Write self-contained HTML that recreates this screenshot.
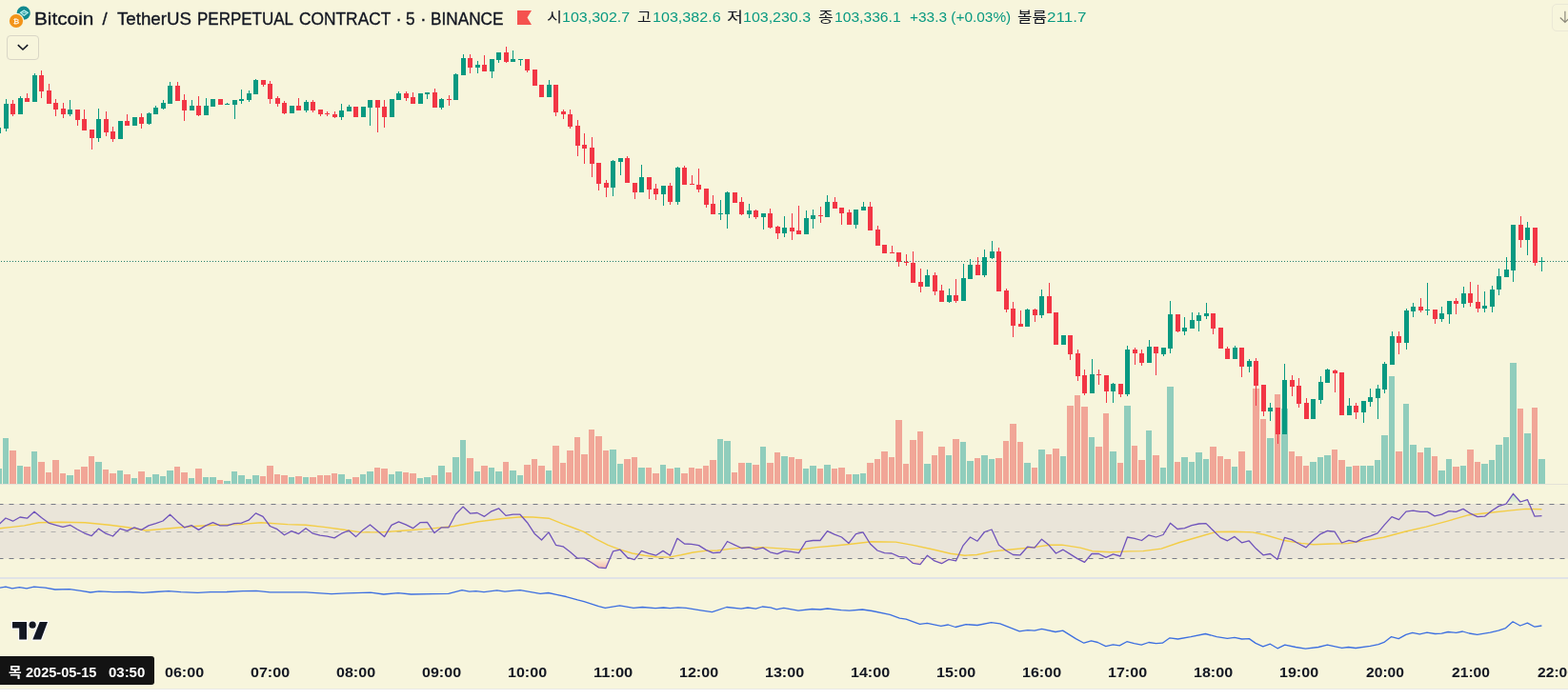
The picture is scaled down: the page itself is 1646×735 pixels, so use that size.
<!DOCTYPE html>
<html><head><meta charset="utf-8"><title>BTCUSDT.P chart</title>
<style>
html,body{margin:0;padding:0;background:#fff;}
body{width:1646px;height:735px;overflow:hidden;position:relative;font-family:"Liberation Sans","Noto Sans CJK KR",sans-serif;color:#131722;}
#chart{position:absolute;left:0;top:0;width:1646px;height:723px;background:#f7f5dc;overflow:hidden;}
#chart svg.main{position:absolute;left:0;top:0;}
.icons,.flag,.logo{position:absolute;}
#bottomline{position:absolute;left:0;top:723px;width:1646px;height:1px;background:#e9e9e4;}
.title{position:absolute;left:37px;top:7px;font-size:18px;line-height:22px;white-space:nowrap;letter-spacing:0px;}
.ohlc{position:absolute;top:9px;font-size:15px;line-height:18px;white-space:nowrap;}
.ohlc .v{color:#089981;}
.flag{position:absolute;left:543px;top:11px;width:15px;height:15px;}
.icons{position:absolute;left:9px;top:6px;width:26px;height:24px;}
.btn{position:absolute;left:6.5px;top:37px;width:32px;height:24px;border:1px solid #d9d6c6;border-radius:4px;}
.btn2{position:absolute;left:1628.5px;top:4px;width:30px;height:27px;border:1px solid #ebe8d6;border-radius:5px;}
.tl{position:absolute;top:697px;font-size:14.5px;line-height:18px;font-weight:bold;white-space:nowrap;transform:translateX(-50%);}
.datebox{position:absolute;left:0;top:689px;width:162px;height:30px;background:#131313;border-radius:0 3px 3px 0;}
.datebox span{position:absolute;left:9px;top:6px;color:#fff;font-size:14.5px;line-height:18px;font-weight:bold;white-space:nowrap;}
.logo{position:absolute;left:11px;top:651px;}
.t{position:absolute;white-space:nowrap;transform-origin:0 0;}
</style></head><body>
<div id="chart">
<svg class="main" width="1646" height="723" viewBox="0 0 1646 723">
<g shape-rendering="crispEdges" fill="#90cdbc"><rect x="-5" y="492" width="7" height="16"/><rect x="3" y="460" width="6" height="48"/><rect x="18" y="489" width="6" height="19"/><rect x="33" y="474" width="6" height="34"/><rect x="70" y="499" width="7" height="9"/><rect x="100" y="485" width="7" height="23"/><rect x="123" y="494" width="6" height="14"/><rect x="138" y="502" width="6" height="6"/><rect x="153" y="501" width="6" height="7"/><rect x="160" y="498" width="7" height="10"/><rect x="168" y="500" width="6" height="8"/><rect x="175" y="494" width="7" height="14"/><rect x="198" y="502" width="6" height="6"/><rect x="213" y="501" width="6" height="7"/><rect x="220" y="501" width="7" height="7"/><rect x="235" y="505" width="7" height="3"/><rect x="243" y="495" width="6" height="13"/><rect x="250" y="499" width="7" height="9"/><rect x="258" y="503" width="6" height="5"/><rect x="265" y="499" width="7" height="9"/><rect x="303" y="501" width="6" height="7"/><rect x="318" y="501" width="6" height="7"/><rect x="355" y="498" width="7" height="10"/><rect x="363" y="503" width="6" height="5"/><rect x="378" y="498" width="6" height="10"/><rect x="385" y="495" width="7" height="13"/><rect x="408" y="498" width="6" height="10"/><rect x="415" y="495" width="7" height="13"/><rect x="438" y="502" width="6" height="6"/><rect x="445" y="501" width="7" height="7"/><rect x="460" y="489" width="7" height="19"/><rect x="475" y="480" width="7" height="28"/><rect x="483" y="462" width="6" height="46"/><rect x="498" y="495" width="6" height="13"/><rect x="513" y="491" width="6" height="17"/><rect x="520" y="495" width="7" height="13"/><rect x="535" y="494" width="7" height="14"/><rect x="543" y="499" width="6" height="9"/><rect x="573" y="494" width="6" height="14"/><rect x="640" y="472" width="7" height="36"/><rect x="648" y="487" width="6" height="21"/><rect x="670" y="491" width="7" height="17"/><rect x="693" y="488" width="6" height="20"/><rect x="708" y="491" width="6" height="17"/><rect x="753" y="461" width="6" height="47"/><rect x="760" y="463" width="7" height="45"/><rect x="783" y="486" width="6" height="22"/><rect x="798" y="469" width="6" height="39"/><rect x="820" y="479" width="7" height="29"/><rect x="843" y="492" width="6" height="16"/><rect x="850" y="489" width="7" height="19"/><rect x="865" y="488" width="7" height="20"/><rect x="895" y="498" width="7" height="10"/><rect x="903" y="497" width="6" height="11"/><rect x="970" y="487" width="7" height="21"/><rect x="993" y="478" width="6" height="30"/><rect x="1008" y="464" width="6" height="44"/><rect x="1015" y="484" width="7" height="24"/><rect x="1030" y="478" width="7" height="30"/><rect x="1038" y="482" width="6" height="26"/><rect x="1075" y="486" width="7" height="22"/><rect x="1090" y="472" width="7" height="36"/><rect x="1113" y="479" width="6" height="29"/><rect x="1143" y="459" width="6" height="49"/><rect x="1165" y="474" width="7" height="34"/><rect x="1180" y="426" width="7" height="82"/><rect x="1203" y="452" width="6" height="56"/><rect x="1218" y="491" width="6" height="17"/><rect x="1225" y="406" width="7" height="102"/><rect x="1240" y="480" width="7" height="28"/><rect x="1248" y="485" width="6" height="23"/><rect x="1255" y="475" width="7" height="33"/><rect x="1263" y="482" width="6" height="26"/><rect x="1293" y="490" width="6" height="18"/><rect x="1308" y="494" width="6" height="14"/><rect x="1330" y="460" width="7" height="48"/><rect x="1345" y="429" width="7" height="79"/><rect x="1375" y="485" width="7" height="23"/><rect x="1383" y="480" width="6" height="28"/><rect x="1390" y="478" width="7" height="30"/><rect x="1413" y="490" width="6" height="18"/><rect x="1428" y="489" width="6" height="19"/><rect x="1435" y="489" width="7" height="19"/><rect x="1443" y="483" width="6" height="25"/><rect x="1450" y="457" width="7" height="51"/><rect x="1458" y="395" width="6" height="113"/><rect x="1473" y="424" width="6" height="84"/><rect x="1480" y="467" width="7" height="41"/><rect x="1495" y="470" width="7" height="38"/><rect x="1510" y="494" width="7" height="14"/><rect x="1518" y="482" width="6" height="26"/><rect x="1533" y="489" width="6" height="19"/><rect x="1555" y="487" width="7" height="21"/><rect x="1563" y="483" width="6" height="25"/><rect x="1570" y="467" width="7" height="41"/><rect x="1578" y="459" width="6" height="49"/><rect x="1585" y="381" width="7" height="127"/><rect x="1600" y="455" width="7" height="53"/><rect x="1615" y="482" width="7" height="26"/></g>
<g shape-rendering="crispEdges" fill="#f1a697"><rect x="10" y="473" width="7" height="35"/><rect x="25" y="490" width="7" height="18"/><rect x="40" y="485" width="7" height="23"/><rect x="48" y="496" width="6" height="12"/><rect x="55" y="483" width="7" height="25"/><rect x="63" y="497" width="6" height="11"/><rect x="78" y="493" width="6" height="15"/><rect x="85" y="490" width="7" height="18"/><rect x="93" y="479" width="6" height="29"/><rect x="108" y="493" width="6" height="15"/><rect x="115" y="497" width="7" height="11"/><rect x="130" y="498" width="7" height="10"/><rect x="145" y="495" width="7" height="13"/><rect x="183" y="490" width="6" height="18"/><rect x="190" y="496" width="7" height="12"/><rect x="205" y="492" width="7" height="16"/><rect x="228" y="504" width="6" height="4"/><rect x="273" y="500" width="6" height="8"/><rect x="280" y="489" width="7" height="19"/><rect x="288" y="498" width="6" height="10"/><rect x="295" y="499" width="7" height="9"/><rect x="310" y="500" width="7" height="8"/><rect x="325" y="501" width="7" height="7"/><rect x="333" y="499" width="6" height="9"/><rect x="340" y="499" width="7" height="9"/><rect x="348" y="497" width="6" height="11"/><rect x="370" y="501" width="7" height="7"/><rect x="393" y="491" width="6" height="17"/><rect x="400" y="492" width="7" height="16"/><rect x="423" y="496" width="6" height="12"/><rect x="430" y="497" width="7" height="11"/><rect x="453" y="499" width="6" height="9"/><rect x="468" y="496" width="6" height="12"/><rect x="490" y="481" width="7" height="27"/><rect x="505" y="489" width="7" height="19"/><rect x="528" y="485" width="6" height="23"/><rect x="550" y="488" width="7" height="20"/><rect x="558" y="482" width="6" height="26"/><rect x="565" y="489" width="7" height="19"/><rect x="580" y="468" width="7" height="40"/><rect x="588" y="486" width="6" height="22"/><rect x="595" y="473" width="7" height="35"/><rect x="603" y="459" width="6" height="49"/><rect x="610" y="477" width="7" height="31"/><rect x="618" y="451" width="6" height="57"/><rect x="625" y="458" width="7" height="50"/><rect x="633" y="473" width="6" height="35"/><rect x="655" y="482" width="7" height="26"/><rect x="663" y="480" width="6" height="28"/><rect x="678" y="491" width="6" height="17"/><rect x="685" y="497" width="7" height="11"/><rect x="700" y="492" width="7" height="16"/><rect x="715" y="497" width="7" height="11"/><rect x="723" y="491" width="6" height="17"/><rect x="730" y="492" width="7" height="16"/><rect x="738" y="489" width="6" height="19"/><rect x="745" y="483" width="7" height="25"/><rect x="768" y="496" width="6" height="12"/><rect x="775" y="486" width="7" height="22"/><rect x="790" y="488" width="7" height="20"/><rect x="805" y="486" width="7" height="22"/><rect x="813" y="475" width="6" height="33"/><rect x="828" y="480" width="6" height="28"/><rect x="835" y="482" width="7" height="26"/><rect x="858" y="492" width="6" height="16"/><rect x="873" y="492" width="6" height="16"/><rect x="880" y="491" width="7" height="17"/><rect x="888" y="498" width="6" height="10"/><rect x="910" y="486" width="7" height="22"/><rect x="918" y="482" width="6" height="26"/><rect x="925" y="474" width="7" height="34"/><rect x="933" y="480" width="6" height="28"/><rect x="940" y="441" width="7" height="67"/><rect x="948" y="487" width="6" height="21"/><rect x="955" y="462" width="7" height="46"/><rect x="963" y="453" width="6" height="55"/><rect x="978" y="478" width="6" height="30"/><rect x="985" y="469" width="7" height="39"/><rect x="1000" y="461" width="7" height="47"/><rect x="1023" y="481" width="6" height="27"/><rect x="1045" y="481" width="7" height="27"/><rect x="1053" y="463" width="6" height="45"/><rect x="1060" y="445" width="7" height="63"/><rect x="1068" y="464" width="6" height="44"/><rect x="1083" y="491" width="6" height="17"/><rect x="1098" y="477" width="6" height="31"/><rect x="1105" y="471" width="7" height="37"/><rect x="1120" y="426" width="7" height="82"/><rect x="1128" y="415" width="6" height="93"/><rect x="1135" y="427" width="7" height="81"/><rect x="1150" y="469" width="7" height="39"/><rect x="1158" y="434" width="6" height="74"/><rect x="1173" y="486" width="6" height="22"/><rect x="1188" y="468" width="6" height="40"/><rect x="1195" y="483" width="7" height="25"/><rect x="1210" y="478" width="7" height="30"/><rect x="1233" y="485" width="6" height="23"/><rect x="1270" y="469" width="7" height="39"/><rect x="1278" y="479" width="6" height="29"/><rect x="1285" y="482" width="7" height="26"/><rect x="1300" y="474" width="7" height="34"/><rect x="1315" y="408" width="7" height="100"/><rect x="1323" y="440" width="6" height="68"/><rect x="1338" y="414" width="6" height="94"/><rect x="1353" y="474" width="6" height="34"/><rect x="1360" y="479" width="7" height="29"/><rect x="1368" y="489" width="6" height="19"/><rect x="1398" y="472" width="6" height="36"/><rect x="1405" y="483" width="7" height="25"/><rect x="1420" y="489" width="7" height="19"/><rect x="1465" y="474" width="7" height="34"/><rect x="1488" y="475" width="6" height="33"/><rect x="1503" y="479" width="6" height="29"/><rect x="1525" y="490" width="7" height="18"/><rect x="1540" y="472" width="7" height="36"/><rect x="1548" y="485" width="6" height="23"/><rect x="1593" y="429" width="6" height="79"/><rect x="1608" y="428" width="6" height="80"/></g>
<line x1="1" y1="274.5" x2="1646" y2="274.5" stroke="#267e6b" stroke-width="1" stroke-dasharray="1 2" shape-rendering="crispEdges"/>
<g shape-rendering="crispEdges" fill="#089981"><rect x="-2" y="130" width="1" height="12"/><rect x="-4" y="134" width="5" height="6"/><rect x="6" y="104" width="1" height="34"/><rect x="4" y="109" width="5" height="26"/><rect x="21" y="101" width="1" height="19"/><rect x="19" y="103" width="5" height="17"/><rect x="36" y="77" width="1" height="30"/><rect x="34" y="79" width="5" height="28"/><rect x="73" y="105" width="1" height="17"/><rect x="71" y="115" width="5" height="5"/><rect x="103" y="114" width="1" height="35"/><rect x="101" y="125" width="5" height="20"/><rect x="126" y="127" width="1" height="19"/><rect x="124" y="127" width="5" height="19"/><rect x="141" y="123" width="1" height="9"/><rect x="139" y="123" width="5" height="9"/><rect x="156" y="118" width="1" height="13"/><rect x="154" y="119" width="5" height="11"/><rect x="163" y="111" width="1" height="9"/><rect x="161" y="113" width="5" height="7"/><rect x="171" y="105" width="1" height="10"/><rect x="169" y="108" width="5" height="6"/><rect x="178" y="86" width="1" height="23"/><rect x="176" y="90" width="5" height="19"/><rect x="201" y="105" width="1" height="11"/><rect x="199" y="111" width="5" height="5"/><rect x="216" y="103" width="1" height="18"/><rect x="214" y="111" width="5" height="10"/><rect x="223" y="104" width="1" height="8"/><rect x="221" y="104" width="5" height="8"/><rect x="238" y="108" width="1" height="2"/><rect x="236" y="109" width="5" height="1"/><rect x="246" y="105" width="1" height="20"/><rect x="244" y="105" width="5" height="5"/><rect x="253" y="94" width="1" height="15"/><rect x="251" y="104" width="5" height="2"/><rect x="261" y="95" width="1" height="12"/><rect x="259" y="98" width="5" height="7"/><rect x="268" y="83" width="1" height="16"/><rect x="266" y="84" width="5" height="15"/><rect x="306" y="111" width="1" height="8"/><rect x="304" y="111" width="5" height="8"/><rect x="321" y="105" width="1" height="13"/><rect x="319" y="107" width="5" height="9"/><rect x="358" y="109" width="1" height="17"/><rect x="356" y="116" width="5" height="7"/><rect x="366" y="110" width="1" height="7"/><rect x="364" y="112" width="5" height="5"/><rect x="381" y="112" width="1" height="11"/><rect x="379" y="112" width="5" height="11"/><rect x="388" y="105" width="1" height="27"/><rect x="386" y="105" width="5" height="8"/><rect x="411" y="104" width="1" height="19"/><rect x="409" y="104" width="5" height="19"/><rect x="418" y="96" width="1" height="9"/><rect x="416" y="98" width="5" height="7"/><rect x="441" y="98" width="1" height="11"/><rect x="439" y="98" width="5" height="11"/><rect x="448" y="97" width="1" height="7"/><rect x="446" y="97" width="5" height="2"/><rect x="463" y="103" width="1" height="12"/><rect x="461" y="104" width="5" height="9"/><rect x="478" y="77" width="1" height="28"/><rect x="476" y="78" width="5" height="27"/><rect x="486" y="57" width="1" height="22"/><rect x="484" y="61" width="5" height="18"/><rect x="501" y="64" width="1" height="13"/><rect x="499" y="68" width="5" height="3"/><rect x="516" y="62" width="1" height="20"/><rect x="514" y="62" width="5" height="13"/><rect x="523" y="55" width="1" height="11"/><rect x="521" y="55" width="5" height="8"/><rect x="538" y="53" width="1" height="12"/><rect x="536" y="62" width="5" height="3"/><rect x="546" y="62" width="1" height="7"/><rect x="544" y="62" width="5" height="1"/><rect x="576" y="84" width="1" height="18"/><rect x="574" y="89" width="5" height="13"/><rect x="643" y="168" width="1" height="38"/><rect x="641" y="169" width="5" height="28"/><rect x="651" y="166" width="1" height="18"/><rect x="649" y="166" width="5" height="4"/><rect x="673" y="173" width="1" height="29"/><rect x="671" y="186" width="5" height="16"/><rect x="696" y="195" width="1" height="21"/><rect x="694" y="195" width="5" height="9"/><rect x="711" y="175" width="1" height="40"/><rect x="709" y="176" width="5" height="36"/><rect x="756" y="210" width="1" height="21"/><rect x="754" y="224" width="5" height="1"/><rect x="763" y="201" width="1" height="39"/><rect x="761" y="202" width="5" height="23"/><rect x="786" y="214" width="1" height="15"/><rect x="784" y="221" width="5" height="4"/><rect x="801" y="224" width="1" height="17"/><rect x="799" y="224" width="5" height="4"/><rect x="823" y="227" width="1" height="22"/><rect x="821" y="239" width="5" height="6"/><rect x="846" y="221" width="1" height="25"/><rect x="844" y="229" width="5" height="17"/><rect x="853" y="220" width="1" height="20"/><rect x="851" y="226" width="5" height="4"/><rect x="868" y="205" width="1" height="23"/><rect x="866" y="212" width="5" height="16"/><rect x="898" y="220" width="1" height="20"/><rect x="896" y="220" width="5" height="16"/><rect x="906" y="212" width="1" height="9"/><rect x="904" y="217" width="5" height="4"/><rect x="973" y="283" width="1" height="18"/><rect x="971" y="289" width="5" height="12"/><rect x="996" y="303" width="1" height="15"/><rect x="994" y="310" width="5" height="7"/><rect x="1011" y="277" width="1" height="39"/><rect x="1009" y="292" width="5" height="24"/><rect x="1018" y="272" width="1" height="21"/><rect x="1016" y="278" width="5" height="15"/><rect x="1033" y="262" width="1" height="29"/><rect x="1031" y="270" width="5" height="19"/><rect x="1041" y="253" width="1" height="19"/><rect x="1039" y="264" width="5" height="7"/><rect x="1078" y="324" width="1" height="19"/><rect x="1076" y="325" width="5" height="18"/><rect x="1093" y="304" width="1" height="30"/><rect x="1091" y="311" width="5" height="20"/><rect x="1116" y="352" width="1" height="10"/><rect x="1114" y="352" width="5" height="10"/><rect x="1146" y="377" width="1" height="36"/><rect x="1144" y="393" width="5" height="20"/><rect x="1168" y="402" width="1" height="21"/><rect x="1166" y="403" width="5" height="8"/><rect x="1183" y="363" width="1" height="53"/><rect x="1181" y="367" width="5" height="47"/><rect x="1206" y="357" width="1" height="24"/><rect x="1204" y="364" width="5" height="17"/><rect x="1221" y="365" width="1" height="9"/><rect x="1219" y="365" width="5" height="7"/><rect x="1228" y="316" width="1" height="55"/><rect x="1226" y="330" width="5" height="36"/><rect x="1243" y="333" width="1" height="19"/><rect x="1241" y="344" width="5" height="4"/><rect x="1251" y="328" width="1" height="17"/><rect x="1249" y="336" width="5" height="9"/><rect x="1258" y="328" width="1" height="20"/><rect x="1256" y="331" width="5" height="6"/><rect x="1266" y="318" width="1" height="17"/><rect x="1264" y="329" width="5" height="3"/><rect x="1296" y="363" width="1" height="14"/><rect x="1294" y="365" width="5" height="12"/><rect x="1311" y="377" width="1" height="14"/><rect x="1309" y="379" width="5" height="6"/><rect x="1333" y="423" width="1" height="19"/><rect x="1331" y="428" width="5" height="4"/><rect x="1348" y="382" width="1" height="74"/><rect x="1346" y="399" width="5" height="57"/><rect x="1378" y="419" width="1" height="21"/><rect x="1376" y="419" width="5" height="21"/><rect x="1386" y="395" width="1" height="29"/><rect x="1384" y="401" width="5" height="19"/><rect x="1393" y="387" width="1" height="15"/><rect x="1391" y="388" width="5" height="14"/><rect x="1416" y="418" width="1" height="18"/><rect x="1414" y="426" width="5" height="10"/><rect x="1431" y="421" width="1" height="23"/><rect x="1429" y="421" width="5" height="12"/><rect x="1438" y="408" width="1" height="19"/><rect x="1436" y="417" width="5" height="5"/><rect x="1446" y="404" width="1" height="36"/><rect x="1444" y="408" width="5" height="10"/><rect x="1453" y="380" width="1" height="33"/><rect x="1451" y="382" width="5" height="27"/><rect x="1461" y="348" width="1" height="35"/><rect x="1459" y="353" width="5" height="30"/><rect x="1476" y="324" width="1" height="43"/><rect x="1474" y="326" width="5" height="34"/><rect x="1483" y="318" width="1" height="15"/><rect x="1481" y="322" width="5" height="5"/><rect x="1498" y="297" width="1" height="34"/><rect x="1496" y="325" width="5" height="1"/><rect x="1513" y="322" width="1" height="16"/><rect x="1511" y="329" width="5" height="6"/><rect x="1521" y="316" width="1" height="24"/><rect x="1519" y="316" width="5" height="14"/><rect x="1536" y="301" width="1" height="22"/><rect x="1534" y="308" width="5" height="11"/><rect x="1558" y="306" width="1" height="22"/><rect x="1556" y="321" width="5" height="3"/><rect x="1566" y="300" width="1" height="28"/><rect x="1564" y="304" width="5" height="18"/><rect x="1573" y="282" width="1" height="28"/><rect x="1571" y="290" width="5" height="14"/><rect x="1581" y="270" width="1" height="21"/><rect x="1579" y="283" width="5" height="8"/><rect x="1588" y="236" width="1" height="60"/><rect x="1586" y="236" width="5" height="48"/><rect x="1603" y="233" width="1" height="35"/><rect x="1601" y="239" width="5" height="13"/><rect x="1618" y="270" width="1" height="15"/><rect x="1616" y="274" width="5" height="1"/></g>
<g shape-rendering="crispEdges" fill="#f23645"><rect x="13" y="105" width="1" height="17"/><rect x="11" y="109" width="5" height="11"/><rect x="28" y="98" width="1" height="9"/><rect x="26" y="103" width="5" height="4"/><rect x="43" y="74" width="1" height="29"/><rect x="41" y="79" width="5" height="17"/><rect x="51" y="88" width="1" height="21"/><rect x="49" y="95" width="5" height="14"/><rect x="58" y="104" width="1" height="18"/><rect x="56" y="108" width="5" height="7"/><rect x="66" y="108" width="1" height="16"/><rect x="64" y="114" width="5" height="6"/><rect x="81" y="115" width="1" height="17"/><rect x="79" y="115" width="5" height="11"/><rect x="88" y="115" width="1" height="22"/><rect x="86" y="125" width="5" height="12"/><rect x="96" y="136" width="1" height="21"/><rect x="94" y="136" width="5" height="9"/><rect x="111" y="117" width="1" height="26"/><rect x="109" y="125" width="5" height="14"/><rect x="118" y="133" width="1" height="16"/><rect x="116" y="138" width="5" height="8"/><rect x="133" y="120" width="1" height="12"/><rect x="131" y="127" width="5" height="5"/><rect x="148" y="119" width="1" height="16"/><rect x="146" y="123" width="5" height="7"/><rect x="186" y="86" width="1" height="20"/><rect x="184" y="90" width="5" height="16"/><rect x="193" y="99" width="1" height="28"/><rect x="191" y="105" width="5" height="11"/><rect x="208" y="101" width="1" height="21"/><rect x="206" y="111" width="5" height="10"/><rect x="231" y="104" width="1" height="6"/><rect x="229" y="104" width="5" height="6"/><rect x="276" y="84" width="1" height="7"/><rect x="274" y="84" width="5" height="5"/><rect x="283" y="85" width="1" height="24"/><rect x="281" y="88" width="5" height="16"/><rect x="291" y="101" width="1" height="11"/><rect x="289" y="103" width="5" height="6"/><rect x="298" y="106" width="1" height="14"/><rect x="296" y="108" width="5" height="11"/><rect x="313" y="103" width="1" height="13"/><rect x="311" y="111" width="5" height="5"/><rect x="328" y="105" width="1" height="13"/><rect x="326" y="107" width="5" height="9"/><rect x="336" y="115" width="1" height="7"/><rect x="334" y="115" width="5" height="5"/><rect x="343" y="117" width="1" height="5"/><rect x="341" y="119" width="5" height="1"/><rect x="351" y="117" width="1" height="7"/><rect x="349" y="120" width="5" height="3"/><rect x="373" y="112" width="1" height="11"/><rect x="371" y="112" width="5" height="11"/><rect x="396" y="105" width="1" height="34"/><rect x="394" y="105" width="5" height="8"/><rect x="403" y="105" width="1" height="29"/><rect x="401" y="112" width="5" height="11"/><rect x="426" y="96" width="1" height="10"/><rect x="424" y="98" width="5" height="5"/><rect x="433" y="97" width="1" height="12"/><rect x="431" y="102" width="5" height="7"/><rect x="456" y="93" width="1" height="20"/><rect x="454" y="97" width="5" height="16"/><rect x="471" y="100" width="1" height="11"/><rect x="469" y="104" width="5" height="1"/><rect x="493" y="57" width="1" height="20"/><rect x="491" y="61" width="5" height="10"/><rect x="508" y="58" width="1" height="17"/><rect x="506" y="68" width="5" height="7"/><rect x="531" y="49" width="1" height="17"/><rect x="529" y="55" width="5" height="10"/><rect x="553" y="62" width="1" height="14"/><rect x="551" y="62" width="5" height="12"/><rect x="561" y="73" width="1" height="17"/><rect x="559" y="73" width="5" height="17"/><rect x="568" y="89" width="1" height="13"/><rect x="566" y="89" width="5" height="13"/><rect x="583" y="89" width="1" height="33"/><rect x="581" y="89" width="5" height="29"/><rect x="591" y="115" width="1" height="10"/><rect x="589" y="117" width="5" height="3"/><rect x="598" y="115" width="1" height="20"/><rect x="596" y="120" width="5" height="13"/><rect x="606" y="126" width="1" height="38"/><rect x="604" y="132" width="5" height="21"/><rect x="613" y="140" width="1" height="32"/><rect x="611" y="152" width="5" height="4"/><rect x="621" y="144" width="1" height="42"/><rect x="619" y="155" width="5" height="17"/><rect x="628" y="171" width="1" height="29"/><rect x="626" y="171" width="5" height="22"/><rect x="636" y="189" width="1" height="18"/><rect x="634" y="192" width="5" height="5"/><rect x="658" y="164" width="1" height="28"/><rect x="656" y="166" width="5" height="26"/><rect x="666" y="192" width="1" height="17"/><rect x="664" y="192" width="5" height="10"/><rect x="681" y="186" width="1" height="23"/><rect x="679" y="186" width="5" height="13"/><rect x="688" y="193" width="1" height="17"/><rect x="686" y="198" width="5" height="6"/><rect x="703" y="192" width="1" height="23"/><rect x="701" y="195" width="5" height="17"/><rect x="718" y="174" width="1" height="20"/><rect x="716" y="176" width="5" height="18"/><rect x="726" y="184" width="1" height="10"/><rect x="724" y="193" width="5" height="1"/><rect x="733" y="177" width="1" height="25"/><rect x="731" y="194" width="5" height="5"/><rect x="741" y="198" width="1" height="20"/><rect x="739" y="198" width="5" height="17"/><rect x="748" y="205" width="1" height="20"/><rect x="746" y="214" width="5" height="11"/><rect x="771" y="202" width="1" height="11"/><rect x="769" y="202" width="5" height="11"/><rect x="778" y="207" width="1" height="19"/><rect x="776" y="212" width="5" height="13"/><rect x="793" y="220" width="1" height="10"/><rect x="791" y="221" width="5" height="7"/><rect x="808" y="219" width="1" height="21"/><rect x="806" y="224" width="5" height="15"/><rect x="816" y="237" width="1" height="14"/><rect x="814" y="238" width="5" height="7"/><rect x="831" y="224" width="1" height="28"/><rect x="829" y="239" width="5" height="4"/><rect x="838" y="216" width="1" height="30"/><rect x="836" y="242" width="5" height="4"/><rect x="861" y="217" width="1" height="17"/><rect x="859" y="226" width="5" height="1"/><rect x="876" y="207" width="1" height="12"/><rect x="874" y="212" width="5" height="7"/><rect x="883" y="218" width="1" height="18"/><rect x="881" y="218" width="5" height="6"/><rect x="891" y="220" width="1" height="16"/><rect x="889" y="223" width="5" height="13"/><rect x="913" y="212" width="1" height="30"/><rect x="911" y="217" width="5" height="25"/><rect x="921" y="237" width="1" height="21"/><rect x="919" y="241" width="5" height="17"/><rect x="928" y="257" width="1" height="9"/><rect x="926" y="257" width="5" height="9"/><rect x="936" y="258" width="1" height="8"/><rect x="934" y="265" width="5" height="1"/><rect x="943" y="265" width="1" height="15"/><rect x="941" y="265" width="5" height="10"/><rect x="951" y="267" width="1" height="12"/><rect x="949" y="275" width="5" height="1"/><rect x="958" y="264" width="1" height="33"/><rect x="956" y="276" width="5" height="21"/><rect x="966" y="282" width="1" height="25"/><rect x="964" y="296" width="5" height="5"/><rect x="981" y="286" width="1" height="24"/><rect x="979" y="289" width="5" height="17"/><rect x="988" y="299" width="1" height="18"/><rect x="986" y="305" width="5" height="12"/><rect x="1003" y="293" width="1" height="25"/><rect x="1001" y="310" width="5" height="6"/><rect x="1026" y="270" width="1" height="19"/><rect x="1024" y="278" width="5" height="11"/><rect x="1048" y="260" width="1" height="46"/><rect x="1046" y="264" width="5" height="42"/><rect x="1056" y="303" width="1" height="25"/><rect x="1054" y="305" width="5" height="20"/><rect x="1063" y="317" width="1" height="37"/><rect x="1061" y="324" width="5" height="18"/><rect x="1071" y="326" width="1" height="17"/><rect x="1069" y="340" width="5" height="3"/><rect x="1086" y="324" width="1" height="14"/><rect x="1084" y="325" width="5" height="6"/><rect x="1101" y="297" width="1" height="32"/><rect x="1099" y="311" width="5" height="18"/><rect x="1108" y="328" width="1" height="34"/><rect x="1106" y="328" width="5" height="34"/><rect x="1123" y="352" width="1" height="26"/><rect x="1121" y="352" width="5" height="20"/><rect x="1131" y="367" width="1" height="33"/><rect x="1129" y="371" width="5" height="24"/><rect x="1138" y="388" width="1" height="27"/><rect x="1136" y="394" width="5" height="19"/><rect x="1153" y="388" width="1" height="16"/><rect x="1151" y="393" width="5" height="1"/><rect x="1161" y="394" width="1" height="29"/><rect x="1159" y="394" width="5" height="17"/><rect x="1176" y="403" width="1" height="14"/><rect x="1174" y="403" width="5" height="11"/><rect x="1191" y="365" width="1" height="18"/><rect x="1189" y="367" width="5" height="4"/><rect x="1198" y="367" width="1" height="17"/><rect x="1196" y="371" width="5" height="10"/><rect x="1213" y="364" width="1" height="30"/><rect x="1211" y="364" width="5" height="7"/><rect x="1236" y="330" width="1" height="19"/><rect x="1234" y="330" width="5" height="18"/><rect x="1273" y="329" width="1" height="22"/><rect x="1271" y="329" width="5" height="16"/><rect x="1281" y="344" width="1" height="22"/><rect x="1279" y="344" width="5" height="22"/><rect x="1288" y="364" width="1" height="13"/><rect x="1286" y="366" width="5" height="11"/><rect x="1303" y="365" width="1" height="31"/><rect x="1301" y="365" width="5" height="20"/><rect x="1318" y="376" width="1" height="50"/><rect x="1316" y="379" width="5" height="26"/><rect x="1326" y="404" width="1" height="33"/><rect x="1324" y="404" width="5" height="28"/><rect x="1341" y="428" width="1" height="38"/><rect x="1339" y="428" width="5" height="28"/><rect x="1356" y="394" width="1" height="22"/><rect x="1354" y="399" width="5" height="7"/><rect x="1363" y="397" width="1" height="31"/><rect x="1361" y="405" width="5" height="19"/><rect x="1371" y="418" width="1" height="22"/><rect x="1369" y="423" width="5" height="17"/><rect x="1401" y="388" width="1" height="24"/><rect x="1399" y="389" width="5" height="3"/><rect x="1408" y="391" width="1" height="45"/><rect x="1406" y="391" width="5" height="45"/><rect x="1423" y="423" width="1" height="17"/><rect x="1421" y="426" width="5" height="7"/><rect x="1468" y="348" width="1" height="24"/><rect x="1466" y="353" width="5" height="7"/><rect x="1491" y="313" width="1" height="15"/><rect x="1489" y="322" width="5" height="4"/><rect x="1506" y="325" width="1" height="15"/><rect x="1504" y="325" width="5" height="10"/><rect x="1528" y="313" width="1" height="17"/><rect x="1526" y="316" width="5" height="3"/><rect x="1543" y="296" width="1" height="26"/><rect x="1541" y="308" width="5" height="10"/><rect x="1551" y="299" width="1" height="29"/><rect x="1549" y="317" width="5" height="7"/><rect x="1596" y="227" width="1" height="33"/><rect x="1594" y="236" width="5" height="16"/><rect x="1611" y="239" width="1" height="40"/><rect x="1609" y="239" width="5" height="37"/></g>
<rect x="0" y="508" width="1646" height="1" fill="#e4e2d8" shape-rendering="crispEdges"/>
<rect x="0" y="606" width="1646" height="2" fill="#e0e3e6" shape-rendering="crispEdges"/>
<rect x="0" y="529" width="1646" height="57.5" fill="#7e57c2" fill-opacity="0.1"/>
<line x1="-1.5" y1="529.5" x2="1646" y2="529.5" stroke="#787b86" stroke-opacity="1" stroke-width="1" stroke-dasharray="5 6"/>
<line x1="-1.5" y1="558.5" x2="1646" y2="558.5" stroke="#787b86" stroke-opacity="0.5" stroke-width="1" stroke-dasharray="5 6"/>
<line x1="-1.5" y1="586.5" x2="1646" y2="586.5" stroke="#787b86" stroke-opacity="1" stroke-width="1" stroke-dasharray="5 6"/>
<defs><linearGradient id="osg" x1="0" y1="586.3" x2="0" y2="598" gradientUnits="userSpaceOnUse"><stop offset="0" stop-color="#f23645" stop-opacity="0"/><stop offset="1" stop-color="#f23645" stop-opacity="0.35"/></linearGradient><linearGradient id="obg" x1="0" y1="529.3" x2="0" y2="517" gradientUnits="userSpaceOnUse"><stop offset="0" stop-color="#089981" stop-opacity="0"/><stop offset="1" stop-color="#089981" stop-opacity="0.3"/></linearGradient></defs>
<polygon fill="url(#osg)" points="613.8,586.3 621.0,590.8 628.5,595.9 636.0,596.6 640.4,586.3"/>
<polygon fill="url(#osg)" points="661.8,586.3 666.0,587.6 667.1,586.3"/>
<polygon fill="url(#osg)" points="952.4,586.3 958.5,591.4 966.0,592.7 971.1,586.3"/>
<polygon fill="url(#osg)" points="977.6,586.3 981.0,588.9 988.5,591.7 996.0,587.4 1003.5,588.9 1004.7,586.3"/>
<polygon fill="url(#osg)" points="1130.5,586.3 1131.0,586.6 1138.5,590.4 1142.0,586.3"/>
<polygon fill="url(#osg)" points="1339.6,586.3 1341.0,587.4 1341.4,586.3"/>
<polygon fill="url(#obg)" points="1580.7,529.3 1581.0,529.2 1588.5,518.3 1596.0,527.0 1603.5,524.7 1605.5,529.3"/>
<polyline fill="none" stroke="#f3cd45" stroke-width="1.4" stroke-linejoin="round" points="0.0,554.7 12.8,553.4 25.5,551.9 40.8,548.7 63.8,548.3 89.3,548.7 114.8,551.3 134.0,553.8 153.0,557.0 178.6,554.7 202.0,552.7 225.5,551.3 251.0,550.6 274.0,548.7 302.0,550.6 321.0,551.3 340.0,553.4 359.5,556.0 378.6,558.9 400.0,558.9 425.5,557.0 451.0,555.1 476.5,552.5 502.0,547.8 527.6,544.5 546.7,542.7 559.5,543.0 576.0,544.2 591.4,550.4 600.0,553.5 612.8,558.3 625.5,565.9 638.3,572.3 651.0,577.2 663.8,581.0 676.5,583.2 689.3,584.8 702.0,585.1 714.8,582.8 727.6,580.0 740.3,578.4 753.0,578.0 765.9,576.4 778.6,575.1 791.4,575.1 800.0,574.6 819.0,575.9 838.3,577.2 857.4,574.6 876.5,573.0 895.7,571.0 914.8,568.7 940.3,569.1 959.5,572.6 978.6,576.8 997.8,581.2 1012.8,583.2 1025.5,582.5 1042.1,578.9 1063.8,576.8 1082.9,574.9 1102.0,572.3 1114.8,572.1 1134.0,575.1 1146.7,578.7 1165.9,579.7 1185.0,578.9 1200.0,578.6 1219.1,576.1 1238.3,569.5 1257.4,564.0 1276.5,558.5 1295.7,558.3 1314.8,558.9 1327.6,561.5 1346.7,567.2 1365.9,570.4 1378.6,571.7 1397.8,571.0 1415.0,570.6 1430.0,568.1 1452.3,564.3 1474.7,558.3 1497.1,553.1 1519.6,547.1 1542.0,540.7 1564.4,538.2 1586.8,535.9 1601.8,534.4 1618.5,534.7"/>
<polyline fill="none" stroke="#6f53bb" stroke-width="1.3" stroke-linejoin="round" points="-1.5,551.0 6.0,544.0 13.5,547.2 21.0,543.0 28.5,544.2 36.0,537.2 43.5,543.6 51.0,549.1 58.5,551.3 66.0,553.4 73.5,551.3 81.0,555.7 88.5,559.8 96.0,562.7 103.5,555.1 111.0,560.2 118.5,563.0 126.0,555.1 133.5,557.3 141.0,553.8 148.5,556.4 156.0,551.9 163.5,549.6 171.0,547.0 178.5,540.2 186.0,547.4 193.5,553.8 201.0,551.6 208.5,556.4 216.0,551.9 223.5,548.7 231.0,551.9 238.5,551.9 246.0,549.6 253.5,549.1 261.0,546.2 268.5,538.9 276.0,542.3 283.5,552.5 291.0,555.7 298.5,561.8 306.0,557.6 313.5,560.6 321.0,554.7 328.5,560.2 336.0,562.1 343.5,563.1 351.0,564.9 358.5,560.2 366.0,557.0 373.5,563.6 381.0,556.4 388.5,550.9 396.0,557.3 403.5,563.6 411.0,551.3 418.5,547.8 426.0,550.9 433.5,554.7 441.0,548.7 448.5,548.3 456.0,559.6 463.5,553.8 471.0,553.8 478.5,539.8 486.0,532.1 493.5,539.1 501.0,538.5 508.5,542.3 516.0,536.8 523.5,533.8 531.0,541.4 538.5,540.2 546.0,540.2 553.5,548.7 561.0,560.2 568.5,567.0 576.0,558.9 583.5,572.3 591.0,573.8 598.5,579.4 606.0,585.9 613.5,586.1 621.0,590.8 628.5,595.9 636.0,596.6 643.5,578.9 651.0,577.2 658.5,585.3 666.0,587.6 673.5,578.4 681.0,581.2 688.5,583.2 696.0,578.4 703.5,583.2 711.0,565.3 718.5,571.0 726.0,571.3 733.5,572.6 741.0,577.4 748.5,580.6 756.0,580.0 763.5,568.5 771.0,572.1 778.5,575.5 786.0,574.6 793.5,576.8 801.0,575.1 808.5,579.8 816.0,581.6 823.5,578.4 831.0,579.3 838.5,580.6 846.0,568.7 853.5,567.5 861.0,567.5 868.5,557.6 876.0,561.1 883.5,564.0 891.0,570.4 898.5,560.6 906.0,558.9 913.5,571.0 921.0,578.0 928.5,580.6 936.0,581.0 943.5,584.4 951.0,585.1 958.5,591.4 966.0,592.7 973.5,583.2 981.0,588.9 988.5,591.7 996.0,587.4 1003.5,588.9 1011.0,572.8 1018.5,564.0 1026.0,568.2 1033.5,558.5 1041.0,556.0 1048.5,572.3 1056.0,578.0 1063.5,582.5 1071.0,582.8 1078.5,574.2 1086.0,575.1 1093.5,566.2 1101.0,572.3 1108.5,581.0 1116.0,577.2 1123.5,581.9 1131.0,586.6 1138.5,590.4 1146.0,581.5 1153.5,581.5 1161.0,585.3 1168.5,581.9 1176.0,584.0 1183.5,564.0 1191.0,565.3 1198.5,567.5 1206.0,561.8 1213.5,564.0 1221.0,561.5 1228.5,549.3 1236.0,555.5 1243.5,554.7 1251.0,551.6 1258.5,550.0 1266.0,549.6 1273.5,557.0 1281.0,564.4 1288.5,567.8 1296.0,563.4 1303.5,569.8 1311.0,567.8 1318.5,576.1 1326.0,582.8 1333.5,581.5 1341.0,587.4 1348.5,564.4 1356.0,566.6 1363.5,571.0 1371.0,574.9 1378.5,567.2 1386.0,560.8 1393.5,557.3 1401.0,558.2 1408.5,570.0 1416.0,567.3 1423.5,569.1 1431.0,565.1 1438.5,562.8 1446.0,559.8 1453.5,550.9 1461.0,542.6 1468.5,545.6 1476.0,537.1 1483.5,536.2 1491.0,537.4 1498.5,537.4 1506.0,541.9 1513.5,540.1 1521.0,536.7 1528.5,537.4 1536.0,534.4 1543.5,539.2 1551.0,542.6 1558.5,542.2 1566.0,536.2 1573.5,531.4 1581.0,529.2 1588.5,518.3 1596.0,527.0 1603.5,524.7 1611.0,542.2 1618.5,541.6"/>
<polyline fill="none" stroke="#3d6fe0" stroke-width="1.3" stroke-linejoin="round" points="0.0,617.2 6.0,616.1 12.8,617.8 20.4,616.6 28.0,617.8 35.7,616.1 47.6,617.2 57.8,619.0 73.0,618.6 85.0,620.3 95.0,622.0 104.0,620.8 119.0,621.7 136.0,621.5 150.0,622.3 163.0,621.5 177.0,620.6 190.0,621.7 207.5,622.3 221.0,621.7 238.0,621.5 255.0,620.6 269.0,620.3 283.6,621.9 304.0,621.9 321.0,621.9 348.0,623.6 363.6,622.9 389.0,622.2 402.7,624.0 418.0,622.6 431.6,624.0 453.7,623.6 470.7,623.3 485.0,619.7 492.8,621.1 499.6,620.7 508.0,621.6 521.7,619.9 530.0,621.1 540.0,620.2 546.0,619.7 567.2,623.4 575.7,622.5 584.2,624.4 594.4,626.5 606.3,629.9 613.1,631.6 628.5,636.7 635.3,638.4 650.6,635.8 665.0,638.4 674.4,637.5 688.0,638.7 696.5,638.0 703.3,638.7 711.8,637.9 720.3,638.4 735.6,640.9 747.5,642.6 762.8,637.5 778.0,639.2 785.0,638.0 793.4,639.2 800.2,637.0 808.8,637.9 815.1,639.8 822.8,638.3 838.0,641.2 852.5,639.5 861.0,640.0 868.7,639.0 883.1,640.6 891.6,641.2 905.3,640.0 915.5,641.5 934.2,645.4 944.4,649.2 951.2,650.2 965.6,655.3 973.3,654.3 987.8,657.3 995.4,656.0 1003.0,658.5 1014.1,655.6 1026.0,656.5 1040.5,653.6 1049.8,654.8 1070.2,662.8 1078.8,661.6 1086.0,662.1 1093.6,660.4 1108.0,663.5 1115.7,662.1 1129.3,670.6 1137.8,675.2 1145.5,672.8 1152.3,674.5 1160.8,678.6 1168.4,676.9 1175.3,677.9 1182.9,673.7 1190.6,675.7 1198.2,677.1 1205.9,674.5 1213.5,675.7 1220.3,675.2 1228.0,669.8 1236.5,671.0 1250.0,668.6 1265.4,665.5 1277.3,668.6 1288.4,670.3 1296.0,669.4 1303.7,671.0 1311.3,670.6 1318.1,675.4 1325.8,678.8 1333.4,676.2 1341.1,680.8 1348.8,677.1 1360.2,679.5 1370.4,681.2 1384.0,679.5 1393.4,677.1 1402.7,679.1 1408.7,680.3 1415.5,679.5 1423.1,680.5 1438.4,678.3 1447.0,676.6 1452.9,674.4 1460.6,668.6 1468.2,670.6 1475.9,666.4 1482.7,664.3 1490.3,665.9 1498.0,664.2 1506.5,665.5 1513.3,665.2 1520.1,663.5 1528.6,664.3 1535.4,663.0 1542.2,665.0 1550.7,666.4 1564.3,664.2 1572.8,662.1 1580.5,659.6 1588.1,652.8 1595.8,657.0 1603.4,654.1 1611.1,658.2 1618.4,657.0"/>
</svg>
<svg class="icons" viewBox="0 0 26 24" width="26" height="24">
 <circle cx="15.7" cy="7.7" r="7.1" fill="#11898f"/>
 <path d="M12.5 7.3 L16.3 5 L20.3 7.3 L16.3 10.3 Z M14.5 7.2 H18.3" fill="none" stroke="#bff4f4" stroke-width="1.1"/>
 <circle cx="8" cy="16" r="8.3" fill="#f7f5dc"/>
 <circle cx="8" cy="16" r="7.1" fill="#f39419"/>
 <text x="8" y="19" font-size="8" font-weight="bold" fill="#fff1dc" text-anchor="middle" font-family="Liberation Sans, sans-serif">₿</text>
</svg>
<svg class="flag" viewBox="0 0 15 15" width="15" height="15"><path d="M0 0H15L10.5 7.5L15 15H0Z" fill="#f5524f"/></svg>
<div class="t" style="left:36.48px;top:7.6px;font-size:18.6px;line-height:23px;font-weight:normal;color:#131722;-webkit-text-stroke:0.35px #131722;transform:scaleX(1.1167);">Bitcoin</div>
<div class="t" style="left:107.5px;top:7.6px;font-size:18.6px;line-height:23px;font-weight:normal;color:#131722;-webkit-text-stroke:0.35px #131722;">/</div>
<div class="t" style="left:122.9px;top:7.6px;font-size:18.6px;line-height:23px;font-weight:normal;color:#131722;-webkit-text-stroke:0.35px #131722;transform:scaleX(1.0052);">TetherUS</div>
<div class="t" style="left:206.89px;top:7.6px;font-size:18.6px;line-height:23px;font-weight:normal;color:#131722;-webkit-text-stroke:0.35px #131722;transform:scaleX(0.9138);">PERPETUAL</div>
<div class="t" style="left:313.67px;top:7.6px;font-size:18.6px;line-height:23px;font-weight:normal;color:#131722;-webkit-text-stroke:0.35px #131722;transform:scaleX(0.9324);">CONTRACT</div>
<div class="t" style="left:415.45px;top:7.6px;font-size:18.6px;line-height:23px;font-weight:normal;color:#131722;-webkit-text-stroke:0.35px #131722;">·</div>
<div class="t" style="left:426.28px;top:7.6px;font-size:18.6px;line-height:23px;font-weight:normal;color:#131722;-webkit-text-stroke:0.35px #131722;transform:scaleX(0.9222);">5</div>
<div class="t" style="left:441.25px;top:7.6px;font-size:18.6px;line-height:23px;font-weight:normal;color:#131722;-webkit-text-stroke:0.35px #131722;">·</div>
<div class="t" style="left:452.07px;top:7.6px;font-size:18.6px;line-height:23px;font-weight:normal;color:#131722;-webkit-text-stroke:0.35px #131722;transform:scaleX(0.9259);">BINANCE</div>
<div class="t" style="left:573.84px;top:7.9px;font-size:15px;line-height:19px;font-weight:normal;color:#131722;transform:scaleX(1.1636);">시</div>
<div class="t" style="left:589.73px;top:7.9px;font-size:15px;line-height:19px;font-weight:normal;color:#089981;transform:scaleX(1.0662);">103,302.7</div>
<div class="t" style="left:668.74px;top:7.9px;font-size:15px;line-height:19px;font-weight:normal;color:#131722;transform:scaleX(1.0583);">고</div>
<div class="t" style="left:685.13px;top:7.9px;font-size:15px;line-height:19px;font-weight:normal;color:#089981;transform:scaleX(1.0738);">103,382.6</div>
<div class="t" style="left:763.36px;top:7.9px;font-size:15px;line-height:19px;font-weight:normal;color:#131722;transform:scaleX(1.2364);">저</div>
<div class="t" style="left:779.94px;top:7.9px;font-size:15px;line-height:19px;font-weight:normal;color:#089981;transform:scaleX(1.0646);">103,230.3</div>
<div class="t" style="left:858.86px;top:7.9px;font-size:15px;line-height:19px;font-weight:normal;color:#131722;transform:scaleX(1.1417);">종</div>
<div class="t" style="left:875.96px;top:7.9px;font-size:15px;line-height:19px;font-weight:normal;color:#089981;transform:scaleX(1.0431);">103,336.1</div>
<div class="t" style="left:954.67px;top:7.9px;font-size:15px;line-height:19px;font-weight:normal;color:#089981;transform:scaleX(1.0275);">+33.3 (+0.03%)</div>
<div class="t" style="left:1068.48px;top:7.9px;font-size:15px;line-height:19px;font-weight:normal;color:#131722;transform:scaleX(1.1231);">볼륨</div>
<div class="t" style="left:1098.86px;top:7.9px;font-size:15px;line-height:19px;font-weight:normal;color:#089981;transform:scaleX(1.1371);">211.7</div>

<div class="btn"><svg width="32" height="24" viewBox="0 0 32 24" style="position:absolute;left:0;top:0"><path d="M10.8 9.2 L16 14 L21.2 9.2" fill="none" stroke="#131722" stroke-width="1.6"/></svg></div>
<div class="btn2"><svg width="30" height="27" viewBox="0 0 30 27" style="position:absolute;left:0;top:0"><path d="M12.9 6.7 V18.4 M7.8 13.5 L12.9 18.4 L18 13.5" fill="none" stroke="#8c897a" stroke-width="1.2"/></svg></div>
<svg class="logo" width="44" height="24" viewBox="0 0 44 24">
 <g stroke="#fff" stroke-width="2.4" stroke-linejoin="round" fill="#131722" paint-order="stroke">
 <path d="M2 2H17V20.5H9.2V8.5H2Z"/>
 <circle cx="23.1" cy="5.2" r="3.6"/>
 <path d="M30.7 2H39L32.1 20.5H23.3Z"/>
 </g>
</svg>
<div class="datebox"></div>
<div class="t" style="left:9.0px;top:695.8px;font-size:15px;line-height:19px;font-weight:bold;color:#ffffff;transform:scaleX(0.9923);">목</div>
<div class="t" style="left:27.0px;top:695.8px;font-size:15px;line-height:19px;font-weight:bold;color:#ffffff;transform:scaleX(0.9684);">2025-05-15</div>
<div class="t" style="left:113.5px;top:695.8px;font-size:15px;line-height:19px;font-weight:bold;color:#ffffff;transform:scaleX(0.9973);">03:50</div>
<div class="t" style="left:172.53px;top:695.8px;font-size:15px;line-height:19px;font-weight:bold;color:#131722;transform:scaleX(1.0703);">06:00</div>
<div class="t" style="left:262.53px;top:695.8px;font-size:15px;line-height:19px;font-weight:bold;color:#131722;transform:scaleX(1.0703);">07:00</div>
<div class="t" style="left:352.53px;top:695.8px;font-size:15px;line-height:19px;font-weight:bold;color:#131722;transform:scaleX(1.0703);">08:00</div>
<div class="t" style="left:442.53px;top:695.8px;font-size:15px;line-height:19px;font-weight:bold;color:#131722;transform:scaleX(1.0703);">09:00</div>
<div class="t" style="left:532.53px;top:695.8px;font-size:15px;line-height:19px;font-weight:bold;color:#131722;transform:scaleX(1.0703);">10:00</div>
<div class="t" style="left:622.5px;top:695.8px;font-size:15px;line-height:19px;font-weight:bold;color:#131722;transform:scaleX(1.1);">11:00</div>
<div class="t" style="left:712.53px;top:695.8px;font-size:15px;line-height:19px;font-weight:bold;color:#131722;transform:scaleX(1.0703);">12:00</div>
<div class="t" style="left:802.53px;top:695.8px;font-size:15px;line-height:19px;font-weight:bold;color:#131722;transform:scaleX(1.0703);">13:00</div>
<div class="t" style="left:892.53px;top:695.8px;font-size:15px;line-height:19px;font-weight:bold;color:#131722;transform:scaleX(1.0703);">14:00</div>
<div class="t" style="left:982.53px;top:695.8px;font-size:15px;line-height:19px;font-weight:bold;color:#131722;transform:scaleX(1.0703);">15:00</div>
<div class="t" style="left:1072.53px;top:695.8px;font-size:15px;line-height:19px;font-weight:bold;color:#131722;transform:scaleX(1.0703);">16:00</div>
<div class="t" style="left:1162.53px;top:695.8px;font-size:15px;line-height:19px;font-weight:bold;color:#131722;transform:scaleX(1.0703);">17:00</div>
<div class="t" style="left:1252.53px;top:695.8px;font-size:15px;line-height:19px;font-weight:bold;color:#131722;transform:scaleX(1.0703);">18:00</div>
<div class="t" style="left:1342.53px;top:695.8px;font-size:15px;line-height:19px;font-weight:bold;color:#131722;transform:scaleX(1.0703);">19:00</div>
<div class="t" style="left:1433.6px;top:695.8px;font-size:15px;line-height:19px;font-weight:bold;color:#131722;transform:scaleX(1.0421);">20:00</div>
<div class="t" style="left:1523.6px;top:695.8px;font-size:15px;line-height:19px;font-weight:bold;color:#131722;transform:scaleX(1.0421);">21:00</div>
<div class="t" style="left:1613.6px;top:695.8px;font-size:15px;line-height:19px;font-weight:bold;color:#131722;transform:scaleX(1.0421);">22:00</div>

</div>
<div id="bottomline"></div>
</body></html>
